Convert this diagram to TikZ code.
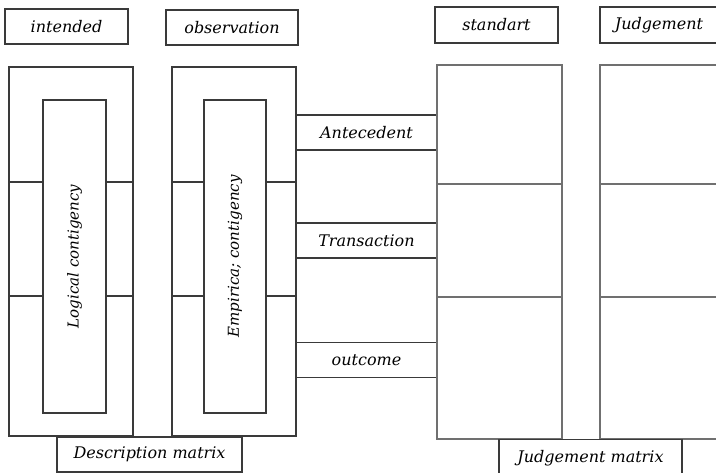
\documentclass[tikz,border=0pt]{standalone}
\usepackage{fontspec}
\setmainfont{DejaVu Serif}
\usepackage{tikz}
\usetikzlibrary{positioning}
\definecolor{frame}{HTML}{3A3A3A}
\definecolor{grid}{HTML}{707070}

\begin{document}
\begin{tikzpicture}[
  every node/.style={font=\fontsize{12}{14}\selectfont\itshape, inner sep=0pt},
  headbox/.style={draw=frame, line width=0.9pt, minimum height=26.25pt},
  descbox/.style={draw=frame, line width=0.8pt, minimum width=93pt, minimum height=276.75pt},
  contbox/.style={draw=frame, line width=0.8pt, minimum height=234.75pt},
  rowbox/.style={draw=frame, line width=0.8pt, minimum width=105.75pt, minimum height=26.25pt},
  judgebox/.style={draw=grid, line width=1.1pt, minimum width=93.75pt, minimum height=280.5pt},
  sidetext/.style={rotate=90, font=\fontsize{11.3}{13}\selectfont\itshape},
  rowline/.style={draw=frame, line width=0.8pt},
  gridline/.style={draw=grid, line width=1.1pt},
  x=0.75pt, y=-0.75pt
]
  \useasboundingbox (0,0) rectangle (716,473);

  % column headings
  \node[headbox, minimum width=92.25pt] (intended)    at (66.5, 26.5) {intended};
  \node[headbox, minimum width=99pt]    (observation) at (232,  27.5) {observation};
  \node[headbox, minimum width=92.25pt, minimum height=27pt] (standart)  at (496.5, 25) {standart};
  \node[headbox, minimum width=88.5pt,  minimum height=27pt] (judgement) at (659,   25) {Judgement};

  % description matrix
  \node[descbox] (descA) at (71,  251.5) {};
  \node[descbox] (descB) at (234, 251.5) {};
  \node[contbox, minimum width=47.25pt] (logic)   at (74.5, 256.5) {};
  \node[contbox, minimum width=46.5pt]  (empiric) at (235,  256.5) {};
  \node[sidetext] (logictext)   at (logic.center)   {Logical contigency};
  \node[sidetext] (empirictext) at (empiric.center) {Empirica; contigency};
  \foreach \y in {182,296} {
    \draw[rowline] (descA.west |- 0,\y) -- (logic.west |- 0,\y);
    \draw[rowline] (logic.east |- 0,\y) -- (descA.east |- 0,\y);
    \draw[rowline] (descB.west |- 0,\y) -- (empiric.west |- 0,\y);
    \draw[rowline] (empiric.east |- 0,\y) -- (descB.east |- 0,\y);
  }

  % rows between the matrices
  \node[rowbox] (antecedent)  at (366.5, 132.5) {Antecedent};
  \node[rowbox] (transaction) at (366.5, 240.5) {Transaction};
  \node[rowbox] (outcome)     at (366.5, 360)   {outcome};

  % judgement matrix
  \node[judgebox] (stdcol)   at (499.5, 252) {};
  \node[judgebox] (judgecol) at (662.5, 252) {};
  \foreach \y in {184,297} {
    \draw[gridline] (stdcol.west |- 0,\y) -- (stdcol.east |- 0,\y);
    \draw[gridline] (judgecol.west |- 0,\y) -- (judgecol.east |- 0,\y);
  }

  % captions
  \node[headbox, minimum width=138.75pt] (descmatrix)  at (149.5, 454.5) {Description matrix};
  \node[headbox, minimum width=137.25pt, minimum height=29pt] (judgematrix) at (590.5, 458.5) {Judgement matrix};
\end{tikzpicture}
\end{document}
